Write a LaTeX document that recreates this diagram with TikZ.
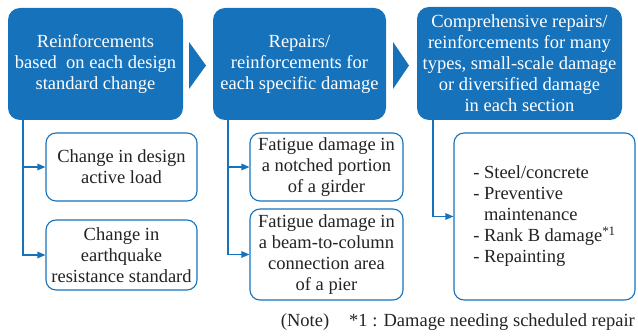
\documentclass[tikz,border=0pt]{standalone}
\usepackage{fontspec}
\setmainfont{Liberation Serif}
\usetikzlibrary{arrows.meta}
\definecolor{mblue}{RGB}{22,114,187}
\definecolor{txt}{RGB}{35,35,35}
\begin{document}
\begin{tikzpicture}[x=1pt,y=-1pt,
  font=\fontsize{18.5}{21}\selectfont,
  head/.style={fill=mblue, draw=none, rounded corners=12pt, text=white, align=center, inner sep=0pt},
  sub/.style={draw=mblue, line width=1.1pt, rounded corners=10pt, fill=white, text=txt, align=center, inner sep=0pt},
  conn/.style={draw=mblue, line width=1.2pt, -{Triangle[length=8pt,width=6.5pt]}},
  chev/.style={fill=mblue, draw=none}]
\useasboundingbox (0,0) rectangle (638,336);
% heading boxes
\node[head, minimum width=175pt, minimum height=112pt] (h1) at (95.5,64)
  {Reinforcements\\based\ \ on each design\\standard change};
\node[head, minimum width=173pt, minimum height=112pt] (h2) at (299.5,64)
  {Repairs/\\reinforcements for\\each specific damage};
\node[head, minimum width=205pt, minimum height=113pt] (h3) at (519.5,63.5)
  {Comprehensive repairs/\\reinforcements for many\\types, small-scale damage\\or diversified damage\\in each section};
% chevrons
\fill[chev] (189,42) -- (206,65.5) -- (189,89) -- cycle;
\fill[chev] (393,42) -- (409,65.5) -- (393,89) -- cycle;
% sub boxes
\node[sub, minimum width=151pt, minimum height=68pt] (c11) at (121.5,167)
  {Change in design\\active load};
\node[sub, minimum width=151pt, minimum height=70pt] (c12) at (121.5,255)
  {Change in\\earthquake\\resistance standard};
\node[sub, minimum width=153pt, minimum height=68pt] (c21) at (326.5,167)
  {Fatigue damage in\\a notched portion\\of a girder};
\node[sub, minimum width=153pt, minimum height=91pt] (c22) at (326.5,254.5)
  {Fatigue damage in\\a beam-to-column\\connection area\\of a pier};
\node[sub, align=left, minimum width=181pt, minimum height=167pt] (c31) at (544.5,216.5)
  {- Steel/concrete\\- Preventive\\\hphantom{- }maintenance\\- Rank B damage\textsuperscript{*1}\\- Repainting};
% connectors
\coordinate (t1) at (23,120);
\coordinate (t2) at (228,120);
\coordinate (t3) at (433,120);
\draw[conn] (t1) |- (c11.west);
\draw[conn] (t1) |- (c12.west);
\draw[conn] (t2) |- (c21.west);
\draw[conn] (t2) |- (c22.west);
\draw[conn] (t3) |- (c31.west);
% note
\node[anchor=base east, text=txt, inner sep=0pt] (note) at (635,327)
  {(Note)\hspace{20pt}*1 : Damage needing scheduled repair};
\end{tikzpicture}
\end{document}
